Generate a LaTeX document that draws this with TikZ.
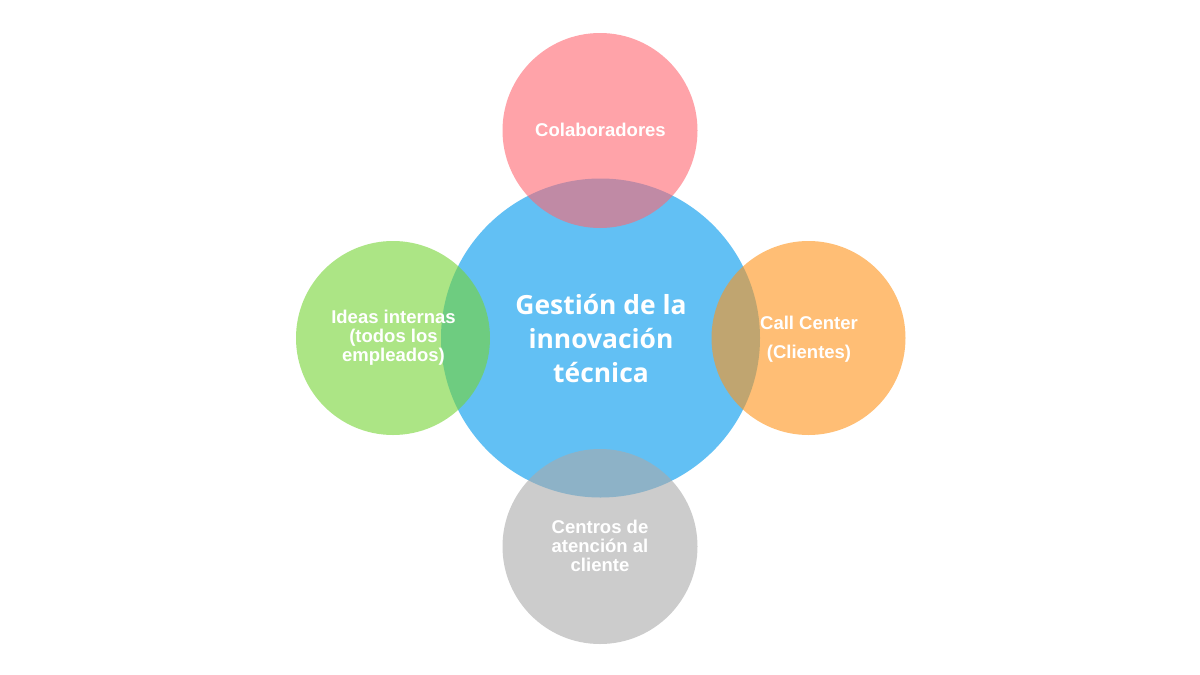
\documentclass[tikz,border=0pt]{standalone}
\usepackage{fontspec}
\setmainfont{Liberation Sans}
\newfontfamily\opensans{Open Sans}
\definecolor{cblue}{HTML}{62C0F4}
\definecolor{cpink}{HTML}{FF6671}
\definecolor{cgreen}{HTML}{76D534}
\definecolor{corange}{HTML}{FF9419}
\definecolor{cgray}{HTML}{AAAAAA}
\begin{document}
\begin{tikzpicture}[x=1pt,y=-1pt,
  sat/.style={fill=#1,fill opacity=0.6,draw=none},
  smalltxt/.style={text=white,font=\bfseries\fontsize{18.5}{18.8}\selectfont,align=center,inner sep=0pt},
  bigtxt/.style={text=white,font=\opensans\bfseries\fontsize{26.4}{34}\selectfont,align=center,inner sep=0pt}]
\useasboundingbox (0,0) rectangle (1200,675);
\fill[white] (0,0) rectangle (1200,675);
\fill[cblue] (600.5,338) circle (159.5);
\fill[sat=cpink] (600,130.5) circle (97.5);
\fill[sat=cgreen] (393,338) circle (97);
\fill[sat=corange] (808.5,338) circle (97);
\fill[sat=cgray] (600,546.5) circle (97.5);
\node[bigtxt] (main) at (601,338.5) {Gestión de la\\innovación\\técnica};
\node[smalltxt] (colab) at (600.5,129.5) {Colaboradores};
\node[smalltxt] (ideas) at (393.5,338) {Ideas internas\\(todos los\\empleados)};
\node[smalltxt] (call) at (809,339) {Call Center\\[10pt](Clientes)};
\node[smalltxt] (centros) at (600,546) {Centros de\\atención al\\cliente};
\end{tikzpicture}
\end{document}
